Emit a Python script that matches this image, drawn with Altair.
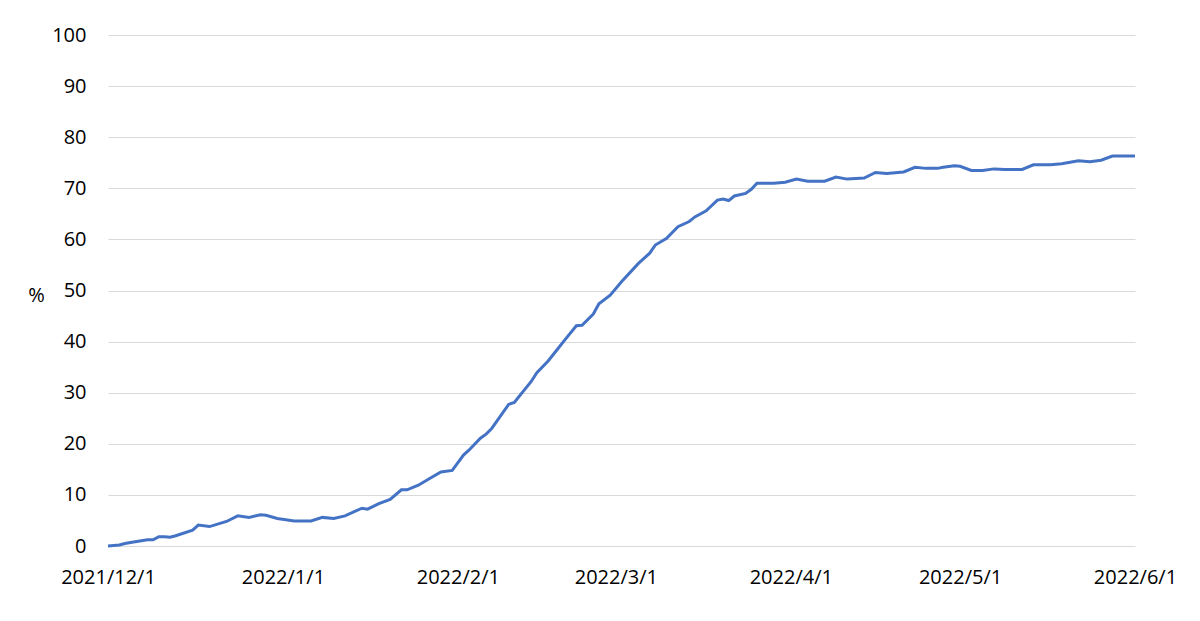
import altair as alt
import pandas as pd

dates = [
    "2021-12-01", "2021-12-03", "2021-12-04", "2021-12-05", "2021-12-08", "2021-12-09",
    "2021-12-10", "2021-12-11", "2021-12-12", "2021-12-13", "2021-12-16", "2021-12-17",
    "2021-12-19", "2021-12-22", "2021-12-24", "2021-12-26", "2021-12-28", "2021-12-29",
    "2021-12-31", "2022-01-03", "2022-01-06", "2022-01-08", "2022-01-10", "2022-01-12",
    "2022-01-15", "2022-01-16", "2022-01-18", "2022-01-20", "2022-01-22", "2022-01-23",
    "2022-01-25", "2022-01-27", "2022-01-29", "2022-01-31", "2022-02-02", "2022-02-03",
    "2022-02-05", "2022-02-06", "2022-02-07", "2022-02-10", "2022-02-11", "2022-02-14",
    "2022-02-15", "2022-02-17", "2022-02-19", "2022-02-20", "2022-02-22", "2022-02-23",
    "2022-02-25", "2022-02-26", "2022-02-28", "2022-03-02", "2022-03-05", "2022-03-07",
    "2022-03-08", "2022-03-10", "2022-03-12", "2022-03-14", "2022-03-15", "2022-03-17",
    "2022-03-19", "2022-03-20", "2022-03-21", "2022-03-22", "2022-03-24", "2022-03-25",
    "2022-03-26", "2022-03-29", "2022-03-31", "2022-04-02", "2022-04-04", "2022-04-07",
    "2022-04-09", "2022-04-11", "2022-04-14", "2022-04-16", "2022-04-18", "2022-04-21",
    "2022-04-23", "2022-04-25", "2022-04-27", "2022-04-28", "2022-04-30", "2022-05-01",
    "2022-05-03", "2022-05-05", "2022-05-07", "2022-05-09", "2022-05-12", "2022-05-14",
    "2022-05-17", "2022-05-19", "2022-05-21", "2022-05-22", "2022-05-24", "2022-05-26",
    "2022-05-28", "2022-06-01",
]
values = [
    0.0, 0.2, 0.5, 0.7, 1.2, 1.2,
    1.8, 1.8, 1.7, 2.0, 3.1, 4.1,
    3.8, 4.8, 5.9, 5.6, 6.1, 6.0,
    5.4, 4.9, 4.9, 5.6, 5.4, 5.9,
    7.4, 7.2, 8.3, 9.1, 11.0, 11.0,
    11.9, 13.2, 14.5, 14.8, 17.8, 18.8,
    21.1, 21.9, 23.0, 27.7, 28.1, 32.2,
    33.9, 36.2, 39.0, 40.4, 43.1, 43.2,
    45.4, 47.4, 49.1, 51.7, 55.3, 57.3,
    58.9, 60.2, 62.5, 63.5, 64.4, 65.6,
    67.7, 67.9, 67.6, 68.5, 69.0, 69.8,
    71.0, 71.0, 71.2, 71.8, 71.4, 71.4,
    72.2, 71.8, 72.0, 73.1, 72.9, 73.2,
    74.1, 73.9, 73.9, 74.1, 74.4, 74.3,
    73.5, 73.5, 73.8, 73.7, 73.7, 74.6,
    74.6, 74.8, 75.2, 75.4, 75.2, 75.5,
    76.3, 76.3,
]
tick_dates = ["2021-12-01", "2022-01-01", "2022-02-01", "2022-03-01",
              "2022-04-01", "2022-05-01", "2022-06-01"]
y_ticks = [0, 10, 20, 30, 40, 50, 60, 70, 80, 90, 100]

df = pd.DataFrame({"date": pd.to_datetime(dates), "value": values})

FONT = "Open Sans"
FS = 20

chart = alt.Chart(df).mark_line(color="#4472C4", strokeWidth=3).encode(
    x=alt.X(
        "date:T",
        scale=alt.Scale(domain=["2021-12-01", "2022-06-01"]),
        axis=alt.Axis(
            values=[pd.Timestamp(d).isoformat() for d in tick_dates],
            format="%Y/%-m/%-d",
            title=None,
            grid=False,
            domain=False,
            ticks=False,
            labelFlush=False,
            labelOverlap=False,
            labelPadding=21,
            labelFontSize=FS,
            labelColor="#000000",
            labelFont=FONT,
        ),
    ),
    y=alt.Y(
        "value:Q",
        scale=alt.Scale(domain=[0, 100], nice=False, zero=True),
        axis=alt.Axis(
            values=y_ticks,
            title="%",
            titleAngle=0,
            titleFontSize=FS,
            titleFontWeight="normal",
            titleFont=FONT,
            titleColor="#000000",
            titleAlign="center",
            titleX=-72,
            titleY=260,
            titleBaseline="middle",
            grid=True,
            gridColor="#d9d9d9",
            gridWidth=1,
            domain=False,
            ticks=False,
            labelPadding=22,
            labelFontSize=FS,
            labelColor="#000000",
            labelFont=FONT,
        ),
    ),
).properties(
    width=1027,
    height=511,
    autosize=alt.AutoSizeParams(type="none"),
    padding={"left": 100, "top": 27, "right": 50, "bottom": 60},
).configure(background="white").configure_view(strokeWidth=0)

chart.save("out.html", embed_options={"renderer": "svg", "actions": False})
